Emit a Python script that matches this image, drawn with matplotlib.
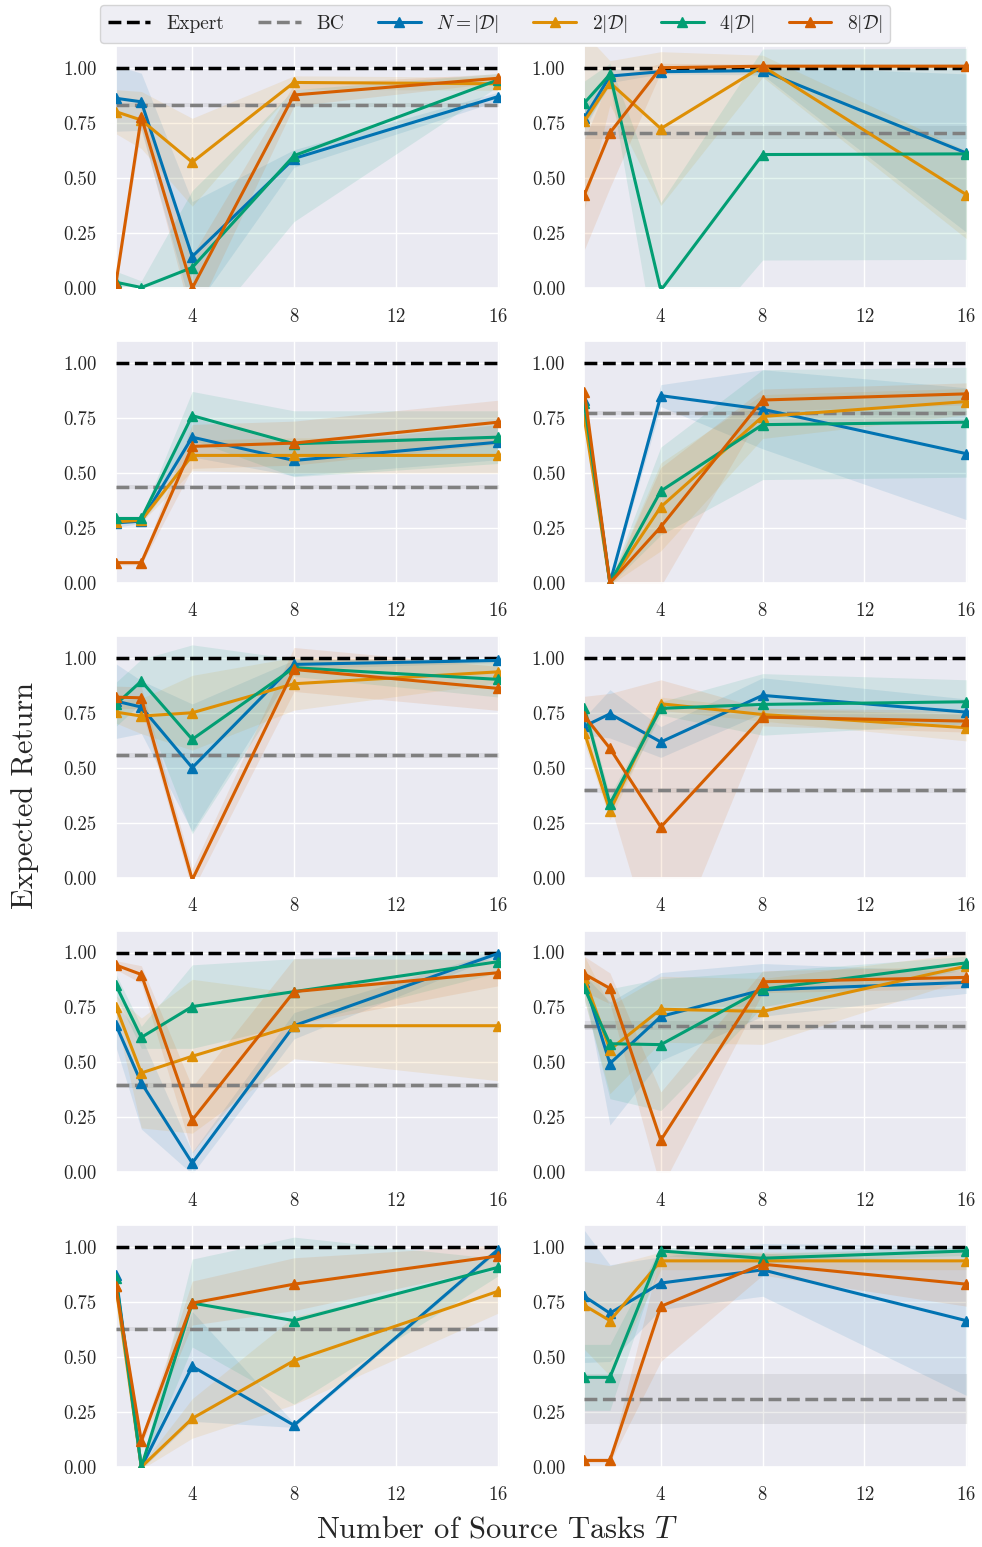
import numpy as np
import matplotlib.pyplot as plt
import seaborn as sns

sns.set_theme(style="darkgrid")
plt.rcParams['font.family'] = ['cmr10', 'DejaVu Serif']
plt.rcParams['mathtext.fontset'] = 'cm'
plt.rcParams['axes.formatter.use_mathtext'] = True

# number of source tasks
tasks = [1, 2, 4, 8, 16]
labels = [r'$N=|\mathcal{D}|$', r'$2|\mathcal{D}|$', r'$4|\mathcal{D}|$', r'$8|\mathcal{D}|$']
colors = sns.color_palette("colorblind")[:4]

# BC return per panel (mean, half-width of band)
bc_mean = [0.833, 0.707, 0.437, 0.772, 0.556, 0.397, 0.395, 0.667, 0.629, 0.31]
bc_std = [0.01, 0.03, 0.01, 0.01, 0.01, 0.01, 0.01, 0.02, 0.01, 0.115]

# means per panel: [N, 2N, 4N, 8N]
mean_p0 = [[0.864, 0.848, 0.144, 0.59, 0.871],
           [0.803, 0.765, 0.573, 0.936, 0.93],
           [0.027, 0.003, 0.094, 0.603, 0.947],
           [0.02, 0.78, 0.0, 0.879, 0.955]]
std_p0 = [[0.15, 0.13, 0.25, 0.04, 0.02],
          [0.1, 0.13, 0.2, 0.03, 0.03],
          [0.05, 0.03, 0.35, 0.3, 0.03],
          [0.03, 0.05, 0.15, 0.05, 0.02]]

mean_p1 = [[0.775, 0.965, 0.985, 0.99, 0.615],
           [0.76, 0.935, 0.726, 1.01, 0.426],
           [0.843, 0.973, -0.01, 0.608, 0.611],
           [0.426, 0.707, 1.003, 1.01, 1.01]]
std_p1 = [[0.05, 0.03, 0.01, 0.02, 0.36],
          [0.4, 0.1, 0.35, 0.05, 0.2],
          [0.1, 0.05, 0.4, 0.48, 0.48],
          [0.25, 0.25, 0.02, 0.01, 0.01]]

mean_p2 = [[0.273, 0.281, 0.663, 0.557, 0.64],
           [0.278, 0.285, 0.58, 0.58, 0.58],
           [0.293, 0.293, 0.761, 0.633, 0.663],
           [0.092, 0.092, 0.621, 0.636, 0.731]]
std_p2 = [[0.02, 0.01, 0.09, 0.07, 0.08],
          [0.01, 0.01, 0.07, 0.08, 0.08],
          [0.01, 0.01, 0.11, 0.15, 0.12],
          [0.01, 0.01, 0.1, 0.1, 0.1]]

mean_p3 = [[0.83, 0.0, 0.852, 0.79, 0.588],
           [0.746, 0.0, 0.346, 0.757, 0.825],
           [0.817, 0.0, 0.418, 0.72, 0.731],
           [0.867, 0.0, 0.255, 0.832, 0.86]]
std_p3 = [[0.02, 0.01, 0.05, 0.18, 0.3],
          [0.02, 0.01, 0.2, 0.1, 0.06],
          [0.02, 0.01, 0.2, 0.25, 0.25],
          [0.02, 0.01, 0.27, 0.05, 0.05]]

mean_p4 = [[0.803, 0.776, 0.5, 0.97, 0.988],
           [0.753, 0.735, 0.75, 0.882, 0.936],
           [0.788, 0.894, 0.629, 0.955, 0.902],
           [0.821, 0.818, -0.01, 0.947, 0.861]]
std_p4 = [[0.17, 0.12, 0.29, 0.02, 0.01],
          [0.05, 0.08, 0.17, 0.12, 0.05],
          [0.1, 0.1, 0.43, 0.04, 0.08],
          [0.05, 0.05, 0.05, 0.1, 0.1]]

mean_p5 = [[0.689, 0.745, 0.617, 0.829, 0.753],
           [0.659, 0.303, 0.791, 0.742, 0.682],
           [0.77, 0.336, 0.77, 0.788, 0.8],
           [0.735, 0.588, 0.23, 0.73, 0.712]]
std_p5 = [[0.04, 0.11, 0.07, 0.08, 0.06],
          [0.05, 0.04, 0.03, 0.03, 0.06],
          [0.03, 0.04, 0.03, 0.14, 0.1],
          [0.09, 0.25, 0.67, 0.04, 0.05]]

mean_p6 = [[0.671, 0.407, 0.042, 0.667, 0.995],
           [0.754, 0.452, 0.528, 0.667, 0.667],
           [0.852, 0.614, 0.754, 0.822, 0.958],
           [0.943, 0.9, 0.238, 0.822, 0.908]]
std_p6 = [[0.1, 0.21, 0.05, 0.06, 0.01],
          [0.05, 0.25, 0.35, 0.15, 0.25],
          [0.05, 0.05, 0.19, 0.15, 0.05],
          [0.02, 0.04, 0.15, 0.15, 0.06]]

mean_p7 = [[0.867, 0.495, 0.709, 0.83, 0.864],
           [0.882, 0.558, 0.742, 0.732, 0.938],
           [0.837, 0.585, 0.581, 0.833, 0.953],
           [0.902, 0.837, 0.146, 0.867, 0.887]]
std_p7 = [[0.03, 0.28, 0.2, 0.12, 0.05],
          [0.1, 0.2, 0.15, 0.15, 0.06],
          [0.05, 0.25, 0.3, 0.08, 0.03],
          [0.08, 0.07, 0.22, 0.05, 0.05]]

mean_p8 = [[0.874, 0.0, 0.458, 0.19, 0.988],
           [0.822, 0.0, 0.221, 0.484, 0.799],
           [0.859, 0.0, 0.746, 0.666, 0.908],
           [0.822, 0.118, 0.746, 0.832, 0.96]]
std_p8 = [[0.03, 0.01, 0.25, 0.01, 0.01],
          [0.03, 0.01, 0.09, 0.2, 0.1],
          [0.02, 0.01, 0.2, 0.38, 0.04],
          [0.03, 0.02, 0.1, 0.12, 0.05]]

mean_p9 = [[0.776, 0.7, 0.837, 0.897, 0.666],
           [0.735, 0.666, 0.938, 0.938, 0.938],
           [0.408, 0.408, 0.983, 0.95, 0.983],
           [0.03, 0.03, 0.731, 0.923, 0.832]]
std_p9 = [[0.3, 0.22, 0.12, 0.12, 0.34],
          [0.2, 0.25, 0.04, 0.04, 0.04],
          [0.15, 0.15, 0.02, 0.02, 0.02],
          [0.01, 0.01, 0.25, 0.05, 0.1]]

means = [mean_p0, mean_p1, mean_p2, mean_p3, mean_p4,
         mean_p5, mean_p6, mean_p7, mean_p8, mean_p9]
stds = [std_p0, std_p1, std_p2, std_p3, std_p4,
        std_p5, std_p6, std_p7, std_p8, std_p9]

fig, axes = plt.subplots(5, 2, figsize=(9.82, 15.47), dpi=100)
plt.subplots_adjust(left=0.118, right=0.986, top=0.970, bottom=0.0517,
                    wspace=0.221, hspace=0.219)

x = np.array(tasks)
for i, ax in enumerate(axes.flat):
    ax.axhline(1.0, color='black', ls='--', lw=2.5, label='Expert', zorder=3)
    ax.axhline(bc_mean[i], color='gray', ls='--', lw=2.5, label='BC', zorder=3)
    ax.axhspan(bc_mean[i] - bc_std[i], bc_mean[i] + bc_std[i], color='gray', alpha=0.15, lw=0)
    for k in range(4):
        m = np.array(means[i][k])
        s = np.array(stds[i][k])
        ax.fill_between(x, m - s, m + s, color=colors[k], alpha=0.11, lw=0)
        ax.plot(x, m, color=colors[k], marker='^', ms=7, lw=2.2, label=labels[k], zorder=4)
    ax.set_xlim(1, 16.08)
    ax.set_ylim(0, 1.1)
    ax.set_xticks([4, 8, 12, 16])
    ax.set_yticks([0, 0.25, 0.5, 0.75, 1.0])
    ax.set_yticklabels(['%.2f' % v for v in [0, 0.25, 0.5, 0.75, 1.0]])
    ax.tick_params(axis='x', labelsize=13.5, pad=8)
    ax.tick_params(axis='y', labelsize=13.5, pad=8)

handles, labs = axes[0, 0].get_legend_handles_labels()
fig.legend(handles, labs, loc='upper center', bbox_to_anchor=(0.504, 1.003), ncol=6,
           fontsize=14, frameon=True, columnspacing=1.75, handlelength=2.2)
fig.text(0.025, 0.486, 'Expected Return', rotation=90, va='center', ha='center', fontsize=22)
fig.text(0.506, 0.011, r'Number of Source Tasks $T$', ha='center', va='center', fontsize=22)

fig.savefig('out.png', dpi=100)
